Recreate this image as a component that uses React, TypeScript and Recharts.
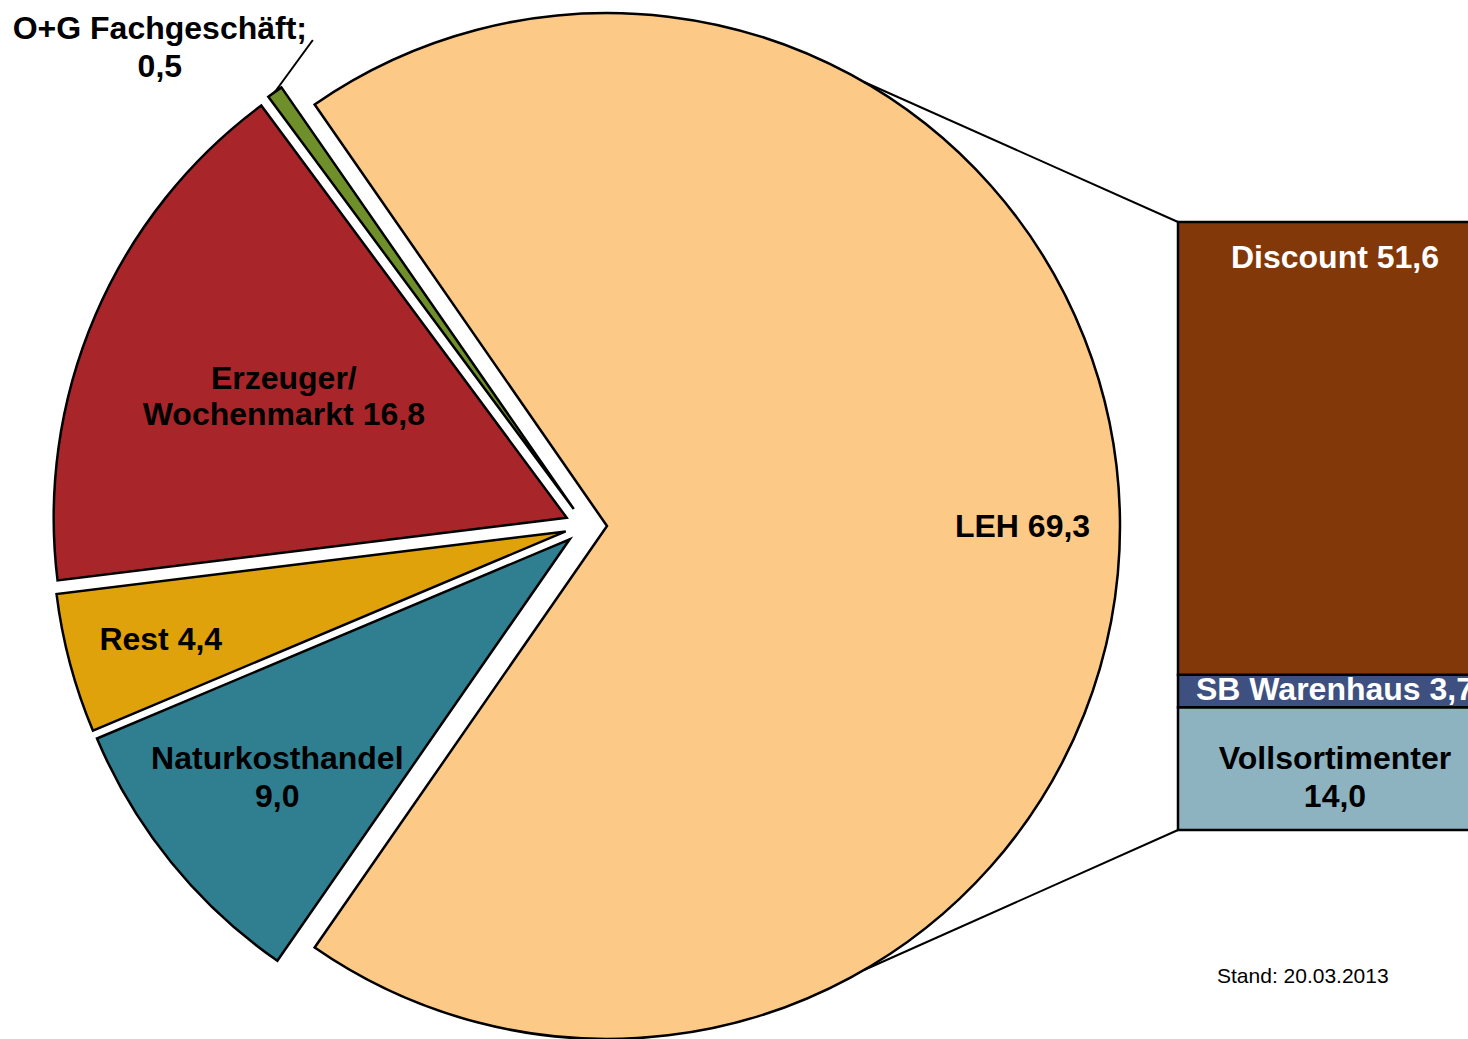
import React from 'react';
import { PieChart, Pie, Cell, BarChart, Bar, XAxis, YAxis, LabelList } from 'recharts';

// ---------- data ----------
const categories = ['LEH', 'O+G Fachgeschäft', 'Erzeuger/\nWochenmarkt', 'Rest', 'Naturkosthandel'];
const shares = [69.3, 0.5, 16.8, 4.4, 9.0];
const sliceColors = ['#FDC986', '#6F8F2A', '#A8262A', '#E0A20B', '#2F7F91'];
const sliceLabelSep = [' ', ';\n', ' ', ' ', '\n'];

const lehSegments = ['Vollsortimenter', 'SB Warenhaus', 'Discount'];
const lehValues = [14.0, 3.7, 51.6];
const segmentColors = ['#8DB3C0', '#3E507F', '#833809'];
const segmentTextColors = ['#000000', '#FFFFFF', '#FFFFFF'];
const segmentLabelSep = ['\n', ' ', ' '];

const standText = 'Stand: 20.03.2013';

// ---------- layout ----------
const W = 1468;
const H = 1039;
const RAD = Math.PI / 180;
const PIE_CX = 586;
const PIE_CY = 526;
const PIE_R = 513;
const EXPLODE = 21;
const labelRadius = [0.81, 0, 0.6, 0.817, 0.734];
const BAR_LEFT = 1178;
const BAR_TOP = 222;
const BAR_W = 314;
const BAR_H = 608;
const BAR_PAD = 3;
const CONNECT_ANGLE = 60;
const FONT = '"Liberation Sans", Arial, Helvetica, sans-serif';
const FS = 32;
const LH = 38;

const fmt = (v: number) => v.toFixed(1).replace('.', ',');

const pieData = categories.map((name, i) => ({ name, value: shares[i] }));
const total = shares.reduce((a, b) => a + b, 0);
const startAngle = -(shares[0] / total) * 180;
const midAngles = shares.map((s, i) => {
  const before = shares.slice(0, i).reduce((a, b) => a + b, 0);
  return startAngle + ((before + s / 2) / total) * 360;
});

const barRow: Record<string, any> = { name: 'LEH' };
lehSegments.forEach((s, i) => (barRow[s] = lehValues[i]));
const barData = [barRow];
const lehTotal = lehValues.reduce((a, b) => a + b, 0);

function Lines({ x, y, lines, fill, lh = LH }: { x: number; y: number; lines: string[]; fill: string; lh?: number }) {
  const n = lines.length;
  return (
    <g>
      {lines.map((l, k) => (
        <text
          key={k}
          x={x}
          y={y + (k - (n - 1) / 2) * lh}
          textAnchor="middle"
          dominantBaseline="central"
          fill={fill}
          fontFamily={FONT}
          fontWeight="bold"
          fontSize={FS}
        >
          {l}
        </text>
      ))}
    </g>
  );
}

function sliceLabel(i: number, cx: number, cy: number) {
  const text = categories[i] + sliceLabelSep[i] + fmt(shares[i]);
  const lines = text.split('\n');
  const mid = midAngles[i];
  if (i === 1) {
    // outside label with leader line
    const px = cx + PIE_R * Math.cos(mid * RAD);
    const py = cy - PIE_R * Math.sin(mid * RAD);
    const ex = px + 38;
    const ey = py - 52;
    return (
      <g>
        <line x1={px} y1={py} x2={ex} y2={ey} stroke="#000" strokeWidth={2} />
        <Lines x={ex - 153} y={ey + 7} lines={lines} fill="#000" />
      </g>
    );
  }
  const r = PIE_R * labelRadius[i];
  const lx = cx + r * Math.cos(mid * RAD);
  const ly = cy - r * Math.sin(mid * RAD);
  return <Lines x={lx} y={ly} lines={lines} fill="#000" lh={i === 2 ? 36 : LH} />;
}

function segLabel(i: number) {
  return (props: any) => {
    const { x, y, width, height } = props;
    const text = lehSegments[i] + segmentLabelSep[i] + fmt(lehValues[i]);
    const lines = text.split('\n');
    const cx = Number(x) + Number(width) / 2;
    let cy = Number(y) + Number(height) / 2;
    if (i === 2) cy = Number(y) + 35;
    else if (i === 0) cy += 8;
    else cy -= 2;
    return <Lines x={cx} y={cy} lines={lines} fill={segmentTextColors[i]} />;
  };
}

export default function App() {
  const lehCx = PIE_CX + EXPLODE * Math.cos(midAngles[0] * RAD);
  const lehCy = PIE_CY - EXPLODE * Math.sin(midAngles[0] * RAD);
  const topPt = {
    x: lehCx + PIE_R * Math.cos(CONNECT_ANGLE * RAD),
    y: lehCy - PIE_R * Math.sin(CONNECT_ANGLE * RAD),
  };
  const botPt = {
    x: lehCx + PIE_R * Math.cos(-CONNECT_ANGLE * RAD),
    y: lehCy - PIE_R * Math.sin(-CONNECT_ANGLE * RAD),
  };

  return (
    <div
      style={{
        position: 'absolute',
        left: 0,
        top: 0,
        width: W,
        height: H,
        overflow: 'hidden',
        background: '#fff',
      }}
    >
      <div style={{ position: 'absolute', left: 0, top: 0 }}>
        <PieChart width={W} height={H} margin={{ top: 0, right: 0, bottom: 0, left: 0 }}>
          {shares.map((_, i) => {
            const mid = midAngles[i];
            const cx = PIE_CX + EXPLODE * Math.cos(mid * RAD);
            const cy = PIE_CY - EXPLODE * Math.sin(mid * RAD);
            return (
              <Pie
                key={i}
                data={pieData}
                dataKey="value"
                nameKey="name"
                cx={cx}
                cy={cy}
                innerRadius={0}
                outerRadius={PIE_R}
                startAngle={startAngle}
                endAngle={startAngle + 360}
                isAnimationActive={false}
                labelLine={false}
                label={(p: any) =>
                  p.index === i || (p.index === undefined && p.name === categories[i]) ? sliceLabel(i, cx, cy) : null
                }
              >
                {pieData.map((d, k) => (
                  <Cell
                    key={k}
                    fill={k === i ? sliceColors[k] : 'none'}
                    stroke={k === i ? '#000' : 'none'}
                    strokeWidth={2.5}
                  />
                ))}
              </Pie>
            );
          })}
        </PieChart>
      </div>
      <div style={{ position: 'absolute', left: BAR_LEFT - BAR_PAD, top: BAR_TOP - BAR_PAD }}>
        <BarChart
          width={BAR_W + 2 * BAR_PAD}
          height={BAR_H + 2 * BAR_PAD}
          data={barData}
          margin={{ top: BAR_PAD, right: BAR_PAD, bottom: BAR_PAD, left: BAR_PAD }}
          barCategoryGap={0}
          barGap={0}
        >
          <XAxis dataKey="name" hide />
          <YAxis type="number" domain={[0, lehTotal]} hide />
          {lehSegments.map((s, i) => (
            <Bar
              key={s}
              dataKey={s}
              stackId="leh"
              fill={segmentColors[i]}
              stroke="#000"
              strokeWidth={2.5}
              isAnimationActive={false}
            >
              <LabelList dataKey={s} content={segLabel(i)} />
            </Bar>
          ))}
        </BarChart>
      </div>
      <svg
        width={W}
        height={H}
        style={{ position: 'absolute', left: 0, top: 0, pointerEvents: 'none' }}
      >
        <line x1={topPt.x} y1={topPt.y} x2={BAR_LEFT} y2={BAR_TOP} stroke="#000" strokeWidth={2} />
        <line x1={botPt.x} y1={botPt.y} x2={BAR_LEFT} y2={BAR_TOP + BAR_H} stroke="#000" strokeWidth={2} />
        <text
          x={1217}
          y={975}
          dominantBaseline="central"
          fontFamily={FONT}
          fontSize={21}
          fill="#000"
        >
          {standText}
        </text>
      </svg>
    </div>
  );
}
